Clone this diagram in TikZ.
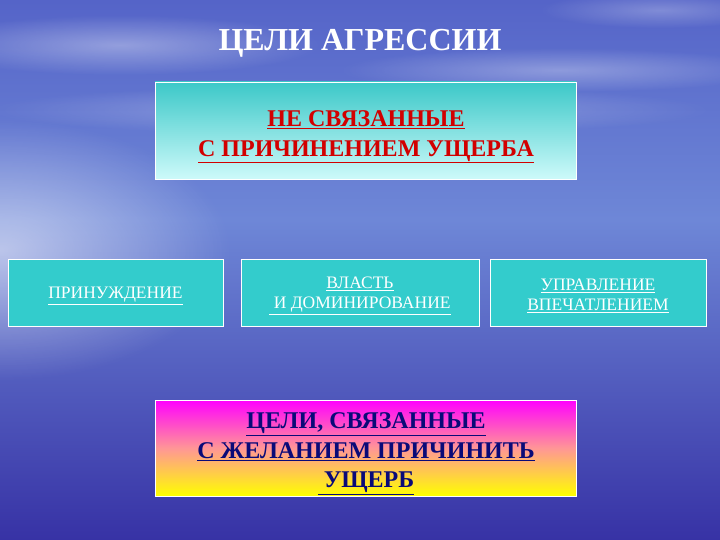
\documentclass[tikz,border=0pt]{standalone}
\usepackage{fontspec}
\setmainfont{Liberation Serif}
\usetikzlibrary{fadings}
\definecolor{skytop}{RGB}{85,100,200}
\definecolor{skymid}{RGB}{110,135,215}
\definecolor{seabot}{RGB}{55,50,165}
\definecolor{teal1}{RGB}{51,204,204}
\definecolor{tealtop}{RGB}{60,200,200}
\definecolor{tealbot}{RGB}{205,250,250}
\definecolor{redtxt}{RGB}{210,0,0}
\definecolor{navytxt}{RGB}{10,10,120}
\tikzfading[name=haze, inner color=transparent!0, outer color=transparent!100]
\tikzset{
  smallbox/.style={draw=white, line width=0.8pt, fill=teal1, minimum width=#1, minimum height=67pt, inner sep=0pt},
  smalltext/.style={align=center, text=white, font=\fontsize{17.5}{20}\selectfont},
  bigtext/.style={align=center, font=\fontsize{24}{29.5}\selectfont\bfseries},
  wisp/.style={fill=white, path fading=haze}
}
\begin{document}
\begin{tikzpicture}[x=1pt,y=-1pt]
\useasboundingbox (0,0) rectangle (720,540);
% background
\shade[top color=skytop, bottom color=skymid] (0,0) rectangle (720,220);
\shade[top color=skymid, bottom color=seabot] (0,220) rectangle (720,540);
\fill[wisp, opacity=0.55] (0,250) ellipse [x radius=230, y radius=130];
\fill[wisp, opacity=0.35] (120,45) ellipse [x radius=200, y radius=30];
\fill[wisp, opacity=0.3] (560,70) ellipse [x radius=220, y radius=22];
\fill[wisp, opacity=0.3] (350,110) ellipse [x radius=360, y radius=25];
\fill[wisp, opacity=0.25] (660,10) ellipse [x radius=120, y radius=18];
% title
\node[text=white, font=\fontsize{32}{34}\selectfont\bfseries] (title) at (360,43) {ЦЕЛИ АГРЕССИИ};
% top box
\shade[top color=tealtop, bottom color=tealbot, draw=white, line width=0.8pt] (155,82) rectangle (576,179);
\node[bigtext, text=redtxt] (top) at (366,137) {\underline{НЕ СВЯЗАННЫЕ}\\\underline{С ПРИЧИНЕНИЕМ УЩЕРБА}};
% small boxes
\node[smallbox=215pt] (b1) at (115.5,292.5) {};
\node[smallbox=238pt] (b2) at (360,292.5) {};
\node[smallbox=216pt] (b3) at (598,292.5) {};
\node[smalltext] (t1) at (115.5,296) {\underline{ПРИНУЖДЕНИЕ}};
\node[smalltext] (t2) at (360,296) {\underline{ВЛАСТЬ}\\\underline{ И ДОМИНИРОВАНИЕ}};
\node[smalltext] (t3) at (598,296) {\underline{УПРАВЛЕНИЕ}\\\underline{ВПЕЧАТЛЕНИЕМ}};
% bottom box
\shade[top color={rgb,255:red,255;green,0;blue,255}, bottom color={rgb,255:red,255;green,255;blue,0}, middle color={rgb,255:red,255;green,150;blue,150}, draw=white, line width=0.8pt] (155,400) rectangle (576,496);
\node[bigtext, text=navytxt] (bot) at (366,454) {\underline{ЦЕЛИ, СВЯЗАННЫЕ}\\\underline{С ЖЕЛАНИЕМ ПРИЧИНИТЬ}\\\underline{ УЩЕРБ}};
\end{tikzpicture}
\end{document}
